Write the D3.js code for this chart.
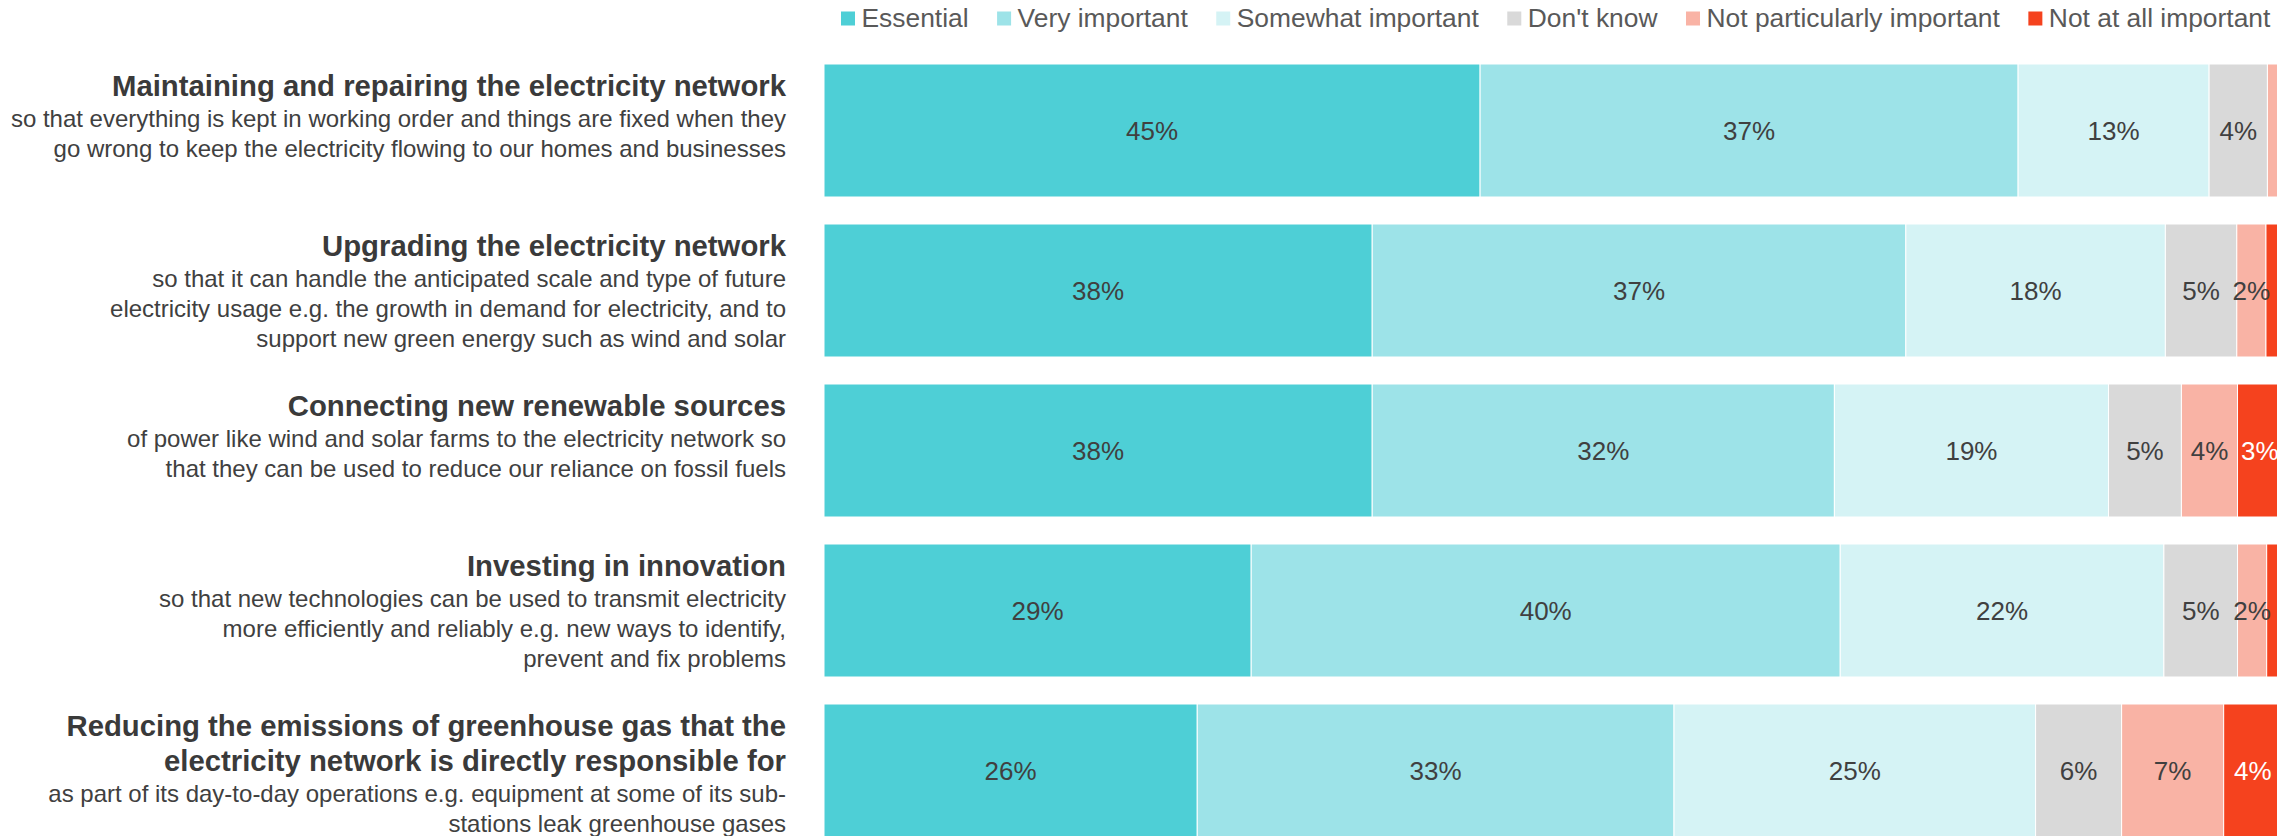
<!DOCTYPE html>
<html>
<head>
<meta charset="utf-8">
<script src="https://cdn.jsdelivr.net/npm/d3@7"></script>
<style>
  html, body { margin: 0; padding: 0; background: #fff; overflow: hidden; }
  svg { display: block; font-family: "Liberation Sans", Arial, sans-serif; }
</style>
</head>
<body>
<svg id="chart" width="2277" height="836"></svg>
<script>
// ---- Data ----
const seriesNames = ["Essential", "Very important", "Somewhat important", "Don't know", "Not particularly important", "Not at all important"];
const seriesColors = ["#4ecfd6", "#9de3e8", "#d5f3f5", "#d9d9d9", "#f9b3a5", "#f5421e"];
const labelColors = ["#404040", "#404040", "#404040", "#404040", "#404040", "#ffffff"];

const categories = ["maintain", "upgrade", "renewables", "innovation", "emissions"];
const titleLines = [
  ["Maintaining and repairing the electricity network"],
  ["Upgrading the electricity network"],
  ["Connecting new renewable sources"],
  ["Investing in innovation"],
  ["Reducing the emissions of greenhouse gas that the", "electricity network is directly responsible for"]
];
const subLines = [
  ["so that everything is kept in working order and things are fixed when they", "go wrong to keep the electricity flowing to our homes and businesses"],
  ["so that it can handle the anticipated scale and type of future", "electricity usage e.g. the growth in demand for electricity, and to", "support new green energy such as wind and solar"],
  ["of power like wind and solar farms to the electricity network so", "that they can be used to reduce our reliance on fossil fuels"],
  ["so that new technologies can be used to transmit electricity", "more efficiently and reliably e.g. new ways to identify,", "prevent and fix problems"],
  ["as part of its day-to-day operations e.g. equipment at some of its sub-", "stations leak greenhouse gases"]
];

// percentages per series, one value per category (in category order)
const essential      = [45.0, 37.6, 37.6, 29.3, 25.6];
const veryImportant  = [36.9, 36.6, 31.7, 40.4, 32.7];
const somewhat       = [13.1, 17.8, 18.8, 22.2, 24.8];
const dontKnow       = [4.0, 4.9, 5.0, 5.05, 5.9];
const notParticular  = [1.0, 2.0, 3.85, 2.0, 7.0];
const notAtAll       = [0.0, 1.1, 3.05, 1.05, 4.0];
const seriesValues = [essential, veryImportant, somewhat, dontKnow, notParticular, notAtAll];

// ---- Build table ----
const table = categories.map((c, i) => {
  const row = { cat: c };
  seriesNames.forEach((s, j) => row[s] = seriesValues[j][i]);
  return row;
});
const stacked = d3.stack().keys(seriesNames)(table);

// ---- Scales ----
const svg = d3.select("#chart");
const x = d3.scaleLinear().domain([0, 100]).range([824, 2282]);
const y = d3.scaleBand().domain(categories).range([50.5, 850.5]).paddingInner(27 / 160).paddingOuter(27 / 320);

// ---- Bars ----
const layers = svg.append("g").selectAll("g")
  .data(stacked)
  .join("g")
  .attr("fill", (d, i) => seriesColors[i]);

layers.selectAll("rect")
  .data(d => d.map(v => ({ v, key: d.key })))
  .join("rect")
  .attr("x", d => x(d.v[0]))
  .attr("y", d => y(d.v.data.cat))
  .attr("width", d => Math.max(0, x(d.v[1]) - x(d.v[0])))
  .attr("height", y.bandwidth())
  .attr("stroke", "#ffffff")
  .attr("stroke-width", 1);

// ---- Value labels ----
const labelsG = svg.append("g")
  .attr("font-size", 26)
  .attr("text-anchor", "middle");
stacked.forEach((layer, i) => {
  labelsG.selectAll(null)
    .data(layer.filter(v => Math.round(v[1] - v[0]) >= 2))
    .join("text")
    .attr("x", v => (x(v[0]) + x(v[1])) / 2)
    .attr("y", v => y(v.data.cat) + y.bandwidth() / 2)
    .attr("dy", "0.36em")
    .attr("fill", labelColors[i])
    .text(v => Math.round(v[1] - v[0]) + "%");
});

// ---- Category labels ----
const labelRight = 786;
const catG = svg.append("g").attr("text-anchor", "end");
categories.forEach((c, i) => {
  const top = y(c);
  const t = catG.append("text").attr("fill", "#3a3a3a");
  let yy = top + 32;
  titleLines[i].forEach((line, k) => {
    if (k > 0) yy += 35;
    t.append("tspan")
      .attr("x", labelRight).attr("y", yy)
      .attr("font-size", 29.3).attr("font-weight", "bold")
      .text(line);
  });
  subLines[i].forEach((line, k) => {
    yy += (k === 0 ? 30.5 : 30);
    t.append("tspan")
      .attr("x", labelRight).attr("y", yy)
      .attr("font-size", 24).attr("fill", "#404040")
      .text(line);
  });
});

// ---- Legend ----
const legend = svg.append("g").attr("font-size", 26.4).attr("fill", "#595959");
let lx = 841;
seriesNames.forEach((name, i) => {
  legend.append("rect")
    .attr("x", lx).attr("y", 11.5).attr("width", 14).attr("height", 14)
    .attr("fill", seriesColors[i]);
  const txt = legend.append("text")
    .attr("x", lx + 20.5).attr("y", 27)
    .text(name);
  const w = txt.node().getComputedTextLength();
  lx = lx + 20.5 + w + 28.5;
});
</script>
</body>
</html>
